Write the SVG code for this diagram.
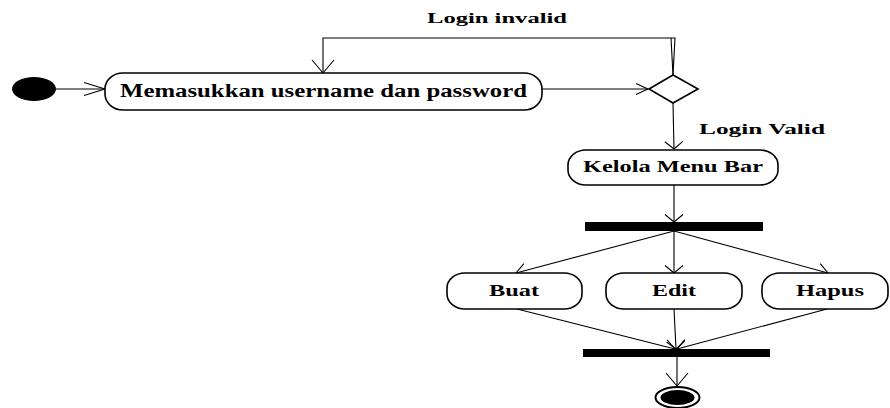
<svg xmlns="http://www.w3.org/2000/svg" width="890" height="408" viewBox="0 0 890 408">
<style>
.act{fill:#fff;stroke:#000;stroke-width:1.6}
.t{font-family:"Liberation Serif","Times New Roman",serif;font-weight:bold;fill:#000}
.c{fill:none;stroke:#000;stroke-width:1.1}
.bar{fill:#000}
</style>
<defs>
<marker id="mh" markerUnits="userSpaceOnUse" markerWidth="30" markerHeight="20" viewBox="-25 -10 30 20" refX="0" refY="0" orient="auto" overflow="visible"><path d="M-21,-6.5 L0,0 L-21,6.5" fill="none" stroke="#000" stroke-width="1.1"/></marker>
<marker id="mh2" markerUnits="userSpaceOnUse" markerWidth="30" markerHeight="20" viewBox="-25 -10 30 20" refX="0" refY="0" orient="auto" overflow="visible"><path d="M-12,-5.5 L0,0 L-12,5.5" fill="none" stroke="#000" stroke-width="1.1"/></marker>
<marker id="mv" markerUnits="userSpaceOnUse" markerWidth="30" markerHeight="30" viewBox="-25 -15 30 30" refX="0" refY="0" orient="auto" overflow="visible"><path d="M-7.5,-9 L0,0 L-7.5,9" fill="none" stroke="#000" stroke-width="1.1"/></marker>
<marker id="mv2" markerUnits="userSpaceOnUse" markerWidth="30" markerHeight="30" viewBox="-25 -15 30 30" refX="0" refY="0" orient="auto" overflow="visible"><path d="M-13,-11 L0,0 L-13,11" fill="none" stroke="#000" stroke-width="1.1"/></marker>
<marker id="md" markerUnits="userSpaceOnUse" markerWidth="30" markerHeight="30" viewBox="-25 -15 30 30" refX="0" refY="0" orient="auto" overflow="visible"><path d="M-10,-7 L0,0 L-10,7" fill="none" stroke="#000" stroke-width="1.1"/></marker>
</defs>

<g id="connectors">
<line class="c" x1="56" y1="89" x2="105" y2="89" marker-end="url(#mh)"/>
<polyline class="c" points="673,75 675,38 323,38 323,73" marker-end="url(#mv2)"/>
<line class="c" x1="671" y1="38" x2="673" y2="75"/>
<line class="c" x1="542" y1="89" x2="648" y2="89" marker-end="url(#mh2)"/>
<line class="c" x1="673" y1="103" x2="674" y2="149" marker-end="url(#mv)"/>
<line class="c" x1="674" y1="185" x2="674" y2="222" marker-end="url(#mv)"/>
<line class="c" x1="674" y1="231" x2="516" y2="273" marker-end="url(#md)"/>
<line class="c" x1="674" y1="231" x2="674" y2="273" marker-end="url(#mv)"/>
<line class="c" x1="674" y1="231" x2="828" y2="273" marker-end="url(#md)"/>
<line class="c" x1="517" y1="309" x2="675" y2="349" marker-end="url(#md)"/>
<line class="c" x1="674" y1="309" x2="676" y2="349" marker-end="url(#mv)"/>
<line class="c" x1="827" y1="309" x2="677" y2="349" marker-end="url(#md)"/>
<line class="c" x1="677" y1="357" x2="677" y2="386" marker-end="url(#mv2)"/>
<text class="t" x="427" y="23" font-size="15" textLength="140" lengthAdjust="spacingAndGlyphs">Login invalid</text>
<text class="t" x="699" y="134" font-size="15" textLength="126" lengthAdjust="spacingAndGlyphs">Login Valid</text>
</g>

<g id="start">
<ellipse cx="34" cy="89" rx="22" ry="12" fill="#000"/>
</g>

<g id="login">
<rect class="act" x="105" y="73" width="437" height="37" rx="18" ry="16"/>
<text class="t" x="120" y="97" font-size="18" textLength="407" lengthAdjust="spacingAndGlyphs">Memasukkan username dan password</text>
</g>

<g id="decision">
<polygon points="649,89 673,75 698,89 673,103" fill="#fff" stroke="#000" stroke-width="1.6"/>
</g>

<g id="kelola">
<rect class="act" x="568" y="150" width="210" height="35" rx="18" ry="15"/>
<text class="t" x="583" y="172" font-size="16" textLength="180" lengthAdjust="spacingAndGlyphs">Kelola Menu Bar</text>
</g>

<g id="fork">
<rect class="bar" x="585" y="222" width="178" height="9"/>
</g>

<g id="buat">
<rect class="act" x="447" y="273" width="135" height="36" rx="18" ry="15"/>
<text class="t" x="489" y="296" font-size="16" textLength="50" lengthAdjust="spacingAndGlyphs">Buat</text>
</g>

<g id="edit">
<rect class="act" x="606" y="273" width="136" height="36" rx="18" ry="15"/>
<text class="t" x="652" y="296" font-size="16" textLength="44" lengthAdjust="spacingAndGlyphs">Edit</text>
</g>

<g id="hapus">
<rect class="act" x="762" y="273" width="126" height="36" rx="18" ry="15"/>
<text class="t" x="796" y="296" font-size="16" textLength="68" lengthAdjust="spacingAndGlyphs">Hapus</text>
</g>

<g id="join">
<rect class="bar" x="583" y="349" width="187" height="8"/>
</g>

<g id="end">
<ellipse cx="677.5" cy="397.5" rx="22" ry="10.5" fill="#fff" stroke="#000" stroke-width="2"/>
<ellipse cx="677.5" cy="397.5" rx="17" ry="7.5" fill="#000"/>
</g>
</svg>
